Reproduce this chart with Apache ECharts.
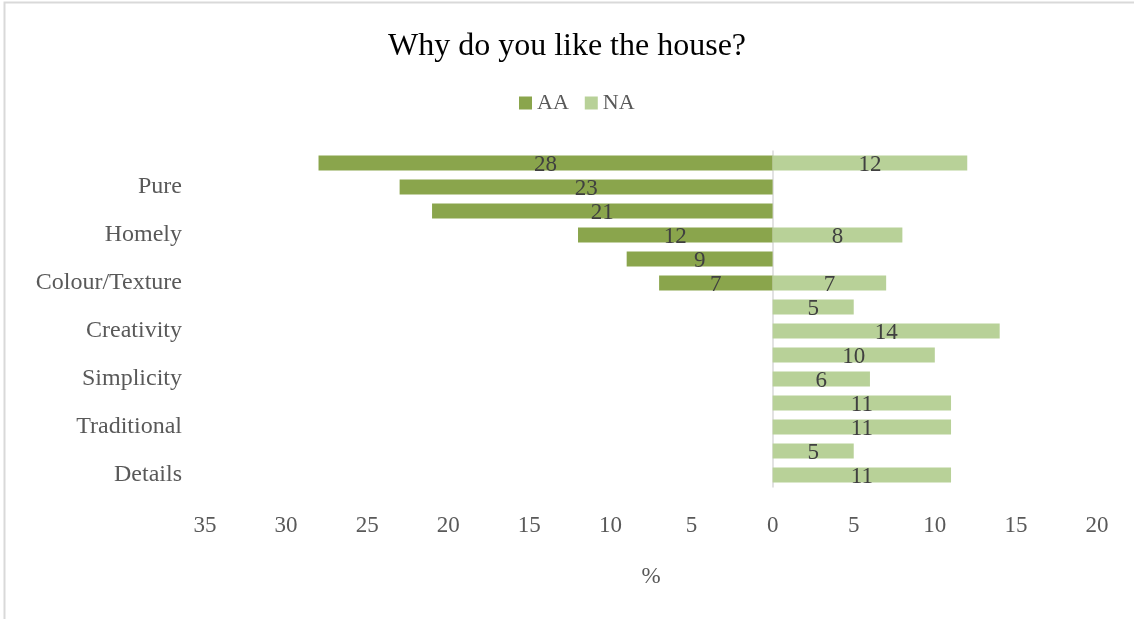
<!DOCTYPE html>
<html>
<head>
<meta charset="utf-8">
<script src="https://cdn.jsdelivr.net/npm/echarts@6/dist/echarts.min.js"></script>
<style>
  html, body { margin: 0; padding: 0; background: #fff; }
  #chart { width: 1134px; height: 619px; }
</style>
</head>
<body>
<div id="chart"></div>
<script>
// bottom to top; only every other row has a visible label in the source
const categories = ["Details", "", "Traditional", "", "Simplicity", "", "Creativity", "", "Colour/Texture", "", "Homely", "", "Pure", ""];
const aaValues = [0, 0, 0, 0, 0, 0, 0, 0, 7, 9, 12, 21, 23, 28];
const naValues = [11, 5, 11, 11, 6, 10, 14, 5, 7, 0, 8, 0, 0, 12];

const font = "'Liberation Serif', 'Times New Roman', serif";
const chart = echarts.init(document.getElementById("chart"));

const barLabel = {
  show: true,
  position: "inside",
  offset: [0, 2],
  color: "#404040",
  fontFamily: font,
  fontSize: 23,
  formatter: (p) => (p.value === 0 ? "" : Math.abs(p.value)),
};

chart.setOption({
  animation: false,
  color: ["#8aa54c", "#b8d198"],
  title: {
    text: "Why do you like the house?",
    left: "center",
    top: 26,
    textStyle: { fontFamily: font, fontSize: 32, fontWeight: "normal", color: "#000" },
  },
  legend: {
    top: 87,
    left: 514,
    icon: "rect",
    itemWidth: 13,
    itemHeight: 13,
    itemGap: 16,
    textStyle: { fontFamily: font, fontSize: 22, color: "#595959" },
  },
  graphic: [{
    type: "rect",
    shape: { x: 4.5, y: 2.5, width: 1200, height: 700 },
    style: { fill: "none", stroke: "#d9d9d9", lineWidth: 2 },
    silent: true,
  }],
  grid: { left: 205, right: 37, top: 151, bottom: 132 },
  xAxis: {
    type: "value",
    min: -35,
    max: 20,
    interval: 5,
    name: "%",
    nameLocation: "middle",
    nameGap: 78,
    nameTextStyle: { fontFamily: font, fontSize: 23, color: "#595959" },
    axisLine: { show: false },
    axisTick: { show: false },
    splitLine: { show: false },
    axisLabel: {
      margin: 27,
      fontFamily: font,
      fontSize: 23,
      color: "#595959",
      formatter: (v) => Math.abs(v),
    },
  },
  yAxis: {
    type: "category",
    data: categories,
    axisLine: { onZero: true, lineStyle: { color: "#d9d9d9", width: 1.5 } },
    axisTick: { show: false },
    axisLabel: {
      interval: 1,
      margin: 23,
      fontFamily: font,
      fontSize: 24,
      color: "#595959",
    },
  },
  series: [
    {
      name: "AA",
      type: "bar",
      stack: "total",
      barWidth: 15,
      data: aaValues.map((v) => -v),
      label: barLabel,
    },
    {
      name: "NA",
      type: "bar",
      stack: "total",
      barWidth: 15,
      data: naValues,
      label: barLabel,
    },
  ],
});
</script>
</body>
</html>
